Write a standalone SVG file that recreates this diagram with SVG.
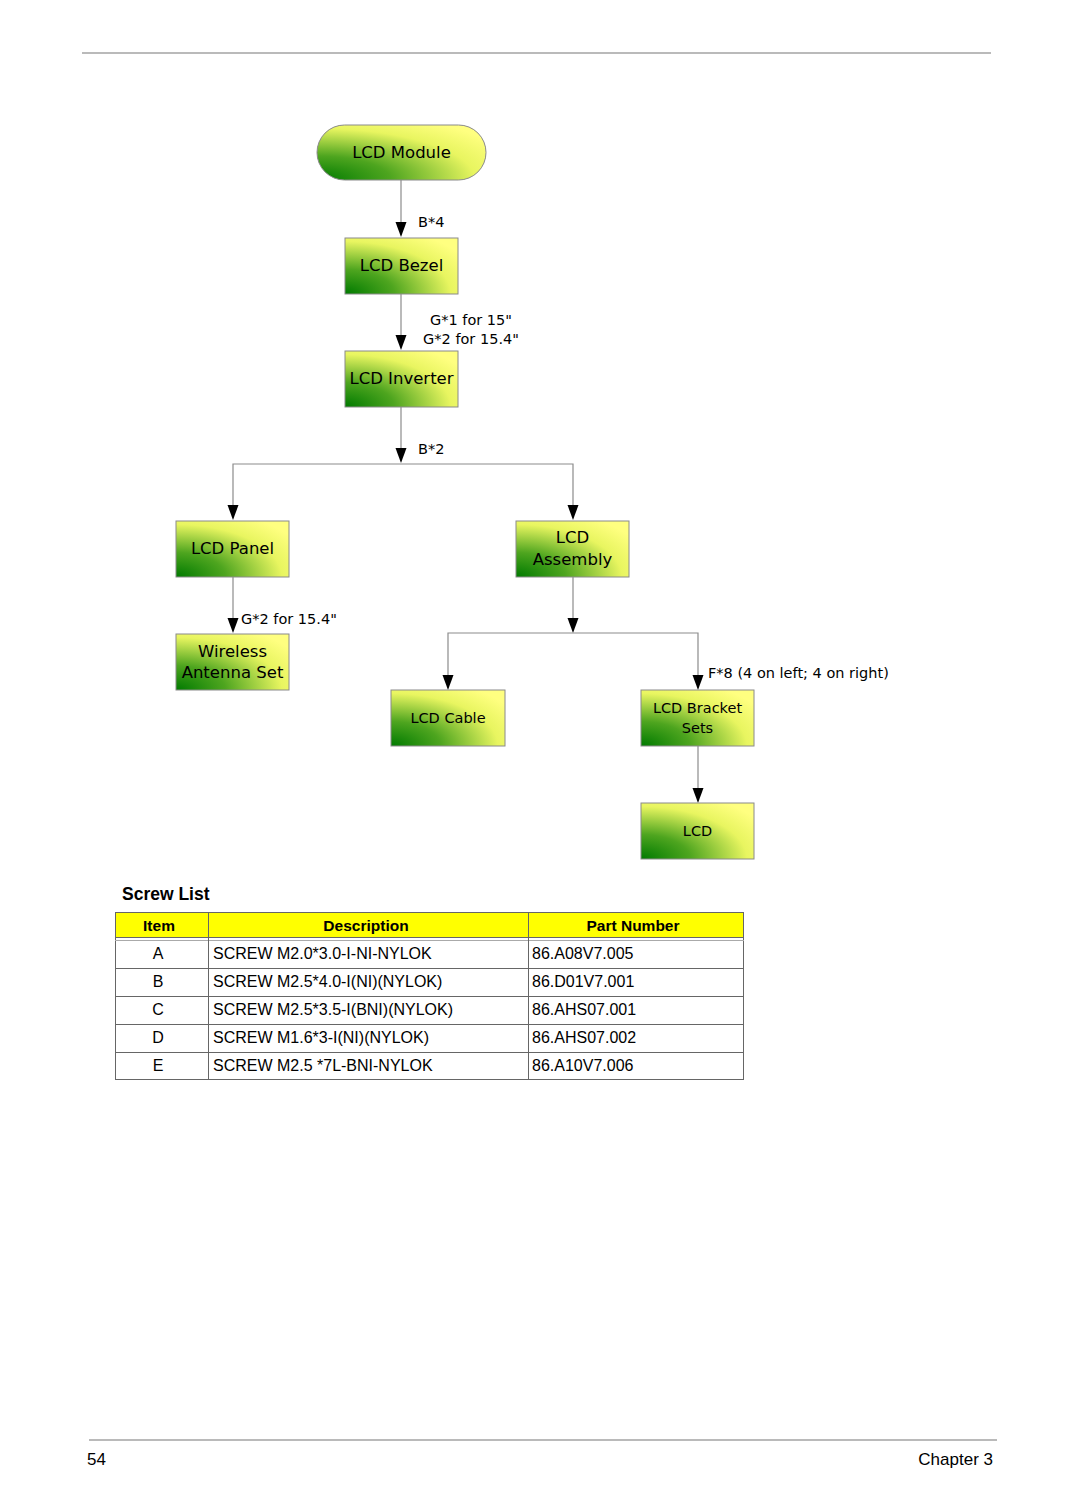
<svg xmlns="http://www.w3.org/2000/svg" width="1080" height="1512" viewBox="0 0 1080 1512">
<style>
.node{stroke:#8a8a8a;stroke-width:1;fill:url(#g)}
.nt{font-family:"DejaVu Sans",Verdana,sans-serif;font-size:16.5px;fill:#000;text-anchor:middle}
.ns{font-size:14.5px}
.lbl{font-family:"DejaVu Sans",Verdana,sans-serif;font-size:14.5px;fill:#000}
.con{stroke:#8c8c8c;stroke-width:1.2;fill:none}
.tb{font-family:"Liberation Sans",Arial,sans-serif;font-size:16px;fill:#000}
.th{font-family:"Liberation Sans",Arial,sans-serif;font-size:15.5px;font-weight:bold;fill:#000;text-anchor:middle}
.grid{stroke:#666;stroke-width:1;fill:none}
</style>
<defs>
<radialGradient id="g" cx="0" cy="1" r="1.25" fx="0" fy="1">
<stop offset="0" stop-color="#007a00"/>
<stop offset="0.35" stop-color="#4ea51f"/>
<stop offset="0.75" stop-color="#e8f560"/>
<stop offset="1" stop-color="#ffff80"/>
</radialGradient>
</defs>
<rect width="1080" height="1512" fill="#fff"/>
<line x1="82" y1="53" x2="991" y2="53" stroke="#777" stroke-width="1.2"/>

<g id="connectors">
<path class="con" d="M401,180 V223"/><path d="M395.5,222 L406.5,222 L401,237 z"/>
<path class="con" d="M401,294 V336"/><path d="M395.5,335 L406.5,335 L401,350 z"/>
<path class="con" d="M401,407 V449"/><path d="M395.5,448 L406.5,448 L401,463 z"/>
<path class="con" d="M233,506 V464 H573 V506"/>
<path d="M227.5,505 L238.5,505 L233,520 z"/><path d="M567.5,505 L578.5,505 L573,520 z"/>
<path class="con" d="M233,577 V619"/><path d="M227.5,618 L238.5,618 L233,633 z"/>
<path class="con" d="M573,577 V619"/><path d="M567.5,618 L578.5,618 L573,633 z"/>
<path class="con" d="M448,676 V633 H698 V676"/>
<path d="M442.5,675 L453.5,675 L448,690 z"/><path d="M692.5,675 L703.5,675 L698,690 z"/>
<path class="con" d="M698,746 V789"/><path d="M692.5,788 L703.5,788 L698,803 z"/>
<text class="lbl" x="418" y="227">B*4</text>
<text class="lbl" x="471" y="325" text-anchor="middle">G*1 for 15"</text>
<text class="lbl" x="471" y="344" text-anchor="middle">G*2 for 15.4"</text>
<text class="lbl" x="418" y="454">B*2</text>
<text class="lbl" x="241" y="624">G*2 for 15.4"</text>
<text class="lbl" x="708" y="678">F*8 (4 on left; 4 on right)</text>
</g>

<g id="lcd-module"><rect class="node" x="317" y="125" width="169" height="55" rx="27.5"/><text class="nt" x="401.5" y="158">LCD Module</text></g>
<g id="lcd-bezel"><rect class="node" x="345" y="238" width="113" height="56"/><text class="nt" x="401.5" y="271">LCD Bezel</text></g>
<g id="lcd-inverter"><rect class="node" x="345" y="351" width="113" height="56"/><text class="nt" x="401.5" y="384">LCD Inverter</text></g>
<g id="lcd-panel"><rect class="node" x="176" y="521" width="113" height="56"/><text class="nt" x="232.5" y="554">LCD Panel</text></g>
<g id="lcd-assembly"><rect class="node" x="516" y="521" width="113" height="56"/><text class="nt" x="572.5" y="543">LCD</text><text class="nt" x="572.5" y="565">Assembly</text></g>
<g id="wireless-antenna"><rect class="node" x="176" y="634" width="113" height="56"/><text class="nt" x="232.5" y="657">Wireless</text><text class="nt" x="232.5" y="678">Antenna Set</text></g>
<g id="lcd-cable"><rect class="node" x="391" y="690" width="114" height="56"/><text class="nt ns" x="448" y="723">LCD Cable</text></g>
<g id="lcd-bracket"><rect class="node" x="641" y="690" width="113" height="56"/><text class="nt ns" x="697.5" y="713">LCD Bracket</text><text class="nt ns" x="697.5" y="733">Sets</text></g>
<g id="lcd"><rect class="node" x="641" y="803" width="113" height="56"/><text class="nt ns" x="697.5" y="836">LCD</text></g>

<g id="screw-list">
<text x="122" y="900" font-family="Liberation Sans,Arial,sans-serif" font-size="17.5" font-weight="bold">Screw List</text>
<rect x="115" y="912" width="629" height="25" fill="#ffff00"/>
<rect class="grid" x="115.5" y="912.5" width="628" height="167"/>
<line class="grid" x1="115" y1="937.5" x2="744" y2="937.5"/>
<line x1="115" y1="940.5" x2="744" y2="940.5" stroke="#aaa" stroke-width="1"/>
<line class="grid" x1="115" y1="968.5" x2="744" y2="968.5"/>
<line class="grid" x1="115" y1="996.5" x2="744" y2="996.5"/>
<line class="grid" x1="115" y1="1024.5" x2="744" y2="1024.5"/>
<line class="grid" x1="115" y1="1052.5" x2="744" y2="1052.5"/>
<line class="grid" x1="208.5" y1="912" x2="208.5" y2="1080"/>
<line class="grid" x1="528.5" y1="912" x2="528.5" y2="1080"/>
<text class="th" x="159" y="931">Item</text>
<text class="th" x="366" y="931">Description</text>
<text class="th" x="633" y="931">Part Number</text>
<g class="tb">
<text x="158" y="959" text-anchor="middle">A</text><text x="213" y="959">SCREW M2.0*3.0-I-NI-NYLOK</text><text x="532" y="959">86.A08V7.005</text>
<text x="158" y="987" text-anchor="middle">B</text><text x="213" y="987">SCREW M2.5*4.0-I(NI)(NYLOK)</text><text x="532" y="987">86.D01V7.001</text>
<text x="158" y="1015" text-anchor="middle">C</text><text x="213" y="1015">SCREW M2.5*3.5-I(BNI)(NYLOK)</text><text x="532" y="1015">86.AHS07.001</text>
<text x="158" y="1043" text-anchor="middle">D</text><text x="213" y="1043">SCREW M1.6*3-I(NI)(NYLOK)</text><text x="532" y="1043">86.AHS07.002</text>
<text x="158" y="1071" text-anchor="middle">E</text><text x="213" y="1071">SCREW M2.5 *7L-BNI-NYLOK</text><text x="532" y="1071">86.A10V7.006</text>
</g>
</g>

<line x1="89" y1="1440" x2="997" y2="1440" stroke="#777" stroke-width="1.2"/>
<text x="87" y="1465" font-family="Liberation Sans,Arial,sans-serif" font-size="17">54</text>
<text x="993" y="1465" font-family="Liberation Sans,Arial,sans-serif" font-size="17" text-anchor="end">Chapter 3</text>
</svg>
